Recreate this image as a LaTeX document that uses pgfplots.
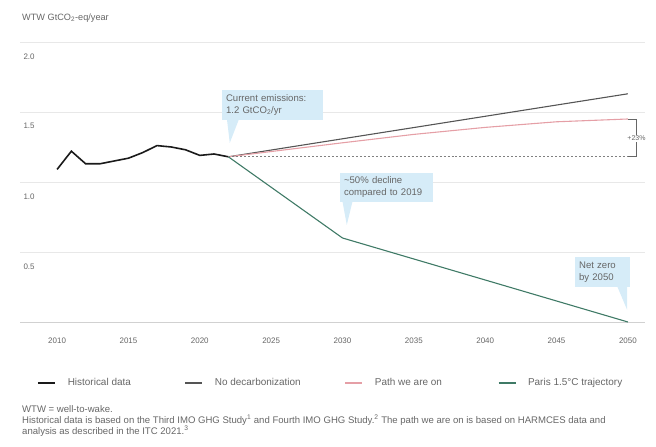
\documentclass[border=0pt]{standalone}
\usepackage{pgfplots}
\pgfplotsset{compat=1.18}
\usepackage{fontspec}
\setmainfont{Liberation Sans}
\definecolor{histc}{HTML}{1A1A1A}
\definecolor{nodec}{HTML}{555555}
\definecolor{pathc}{HTML}{E59FA6}
\definecolor{paris}{HTML}{3F7A66}
\definecolor{callc}{HTML}{D6ECF8}
\definecolor{txt}{HTML}{666666}
\definecolor{gridc}{HTML}{E8E8E8}
\tikzset{callbox/.style={fill=callc, rectangle, align=left, inner xsep=4bp, inner ysep=0bp, text=txt, font=\fontsize{9.6}{12}\selectfont}}
\begin{document}
\begin{tikzpicture}[x=1bp,y=1bp]
\useasboundingbox (0,0) rectangle (656,447);
\node[anchor=west, text=txt, font=\fontsize{9.2}{10}\selectfont, inner sep=0] at (22,429) {WTW GtCO\textsubscript{2}-eq/year};
\begin{axis}[
  at={(20bp,125bp)}, anchor=south west,
  scale only axis, width=625bp, height=280bp,
  xmin=2007.4, xmax=2051.2, ymin=0, ymax=2,
  axis line style={draw=none},
  major tick length=0pt,
  xtick={2010,2015,...,2050},
  ytick={0.5,1,1.5,2},
  yticklabels={0.5,1.0,1.5,2.0},
  extra y ticks={0}, extra y tick labels={},
  extra y tick style={grid style={draw=black!18, line width=0.8pt}},
  ymajorgrids, grid style={draw=gridc, line width=0.6pt},
  /pgf/number format/assume math mode=true,
  xticklabel style={font=\fontsize{8}{9}\selectfont, text=txt, yshift=-12bp, /pgf/number format/1000 sep={}},
  yticklabel style={font=\fontsize{8}{9}\selectfont, text=txt, anchor=north west, yshift=-8bp},
  clip=false,
  legend columns=4,
  legend style={at={(axis description cs:0.0224,-0.218)}, anchor=west, draw=none, fill=none,
    font=\fontsize{10}{11}\selectfont, text=txt,
    /tikz/every odd column/.append style={column sep=10bp}},
  legend cell align=left,
]
\addplot[histc, line width=1.6pt] coordinates {(2010,1.09) (2011,1.22) (2012,1.13) (2013,1.13) (2014,1.15) (2015,1.17) (2016,1.21) (2017,1.26) (2018,1.25) (2019,1.23) (2020,1.19) (2021,1.20) (2022,1.18)};
\addlegendentry{\makebox[115bp][l]{Historical data}}
\addplot[nodec, line width=1.1pt] coordinates {(2022,1.18) (2050,1.63)};
\addlegendentry{\makebox[128bp][l]{No decarbonization}}
\addplot[pathc, line width=1.1pt] coordinates {(2022,1.18) (2030,1.28) (2035,1.34) (2040,1.39) (2045,1.43) (2050,1.45)};
\addlegendentry{\makebox[121bp][l]{Path we are on}}
\addplot[paris, line width=1.1pt] coordinates {(2022,1.18) (2030,0.60) (2050,0.0)};
\addlegendentry{Paris 1.5\textdegree C trajectory}
\addplot[gray, line width=0.8pt, dash pattern=on 2pt off 2pt, forget plot] coordinates {(2022,1.18) (2050,1.18)};
\addplot[black!60, line width=0.6pt, forget plot] coordinates {(2050,1.45) (2050.6,1.45) (2050.6,1.18) (2050,1.18)};
\node[fill=white, inner sep=1pt, text=txt, font=\fontsize{7}{8}\selectfont] at (axis cs:2050.6,1.31) {+23\%};
% callouts
\node[callbox, minimum width=101bp, minimum height=30bp, text width=93bp] at (axis cs:2025.1,1.55) {Current emissions:\\1.2 GtCO\textsubscript{2}/yr};
\fill[callc] (axis cs:2021.9,1.45) -- (axis cs:2022.75,1.45) -- (axis cs:2022.1,1.279) -- cycle;
\node[callbox, minimum width=93bp, minimum height=29bp, text width=85bp] at (axis cs:2033.09,0.961) {\textasciitilde50\% decline\\compared to 2019};
\fill[callc] (axis cs:2030.0,0.86) -- (axis cs:2030.7,0.86) -- (axis cs:2030.3,0.693) -- cycle;
\node[callbox, minimum width=55bp, minimum height=30bp, text width=47bp] at (axis cs:2048.23,0.357) {Net zero\\by 2050};
\fill[callc] (axis cs:2049.25,0.255) -- (axis cs:2049.95,0.255) -- (axis cs:2049.95,0.086) -- cycle;
\end{axis}
\node[anchor=north west, align=left, inner sep=0, text=txt, font=\fontsize{9.6}{11}\selectfont] at (22,42)
 {WTW = well-to-wake.\\
  Historical data is based on the Third IMO GHG Study\textsuperscript{1} and Fourth IMO GHG Study.\textsuperscript{2} The path we are on is based on HARMCES data and\\
  analysis as described in the ITC 2021.\textsuperscript{3}};
\end{tikzpicture}
\end{document}
